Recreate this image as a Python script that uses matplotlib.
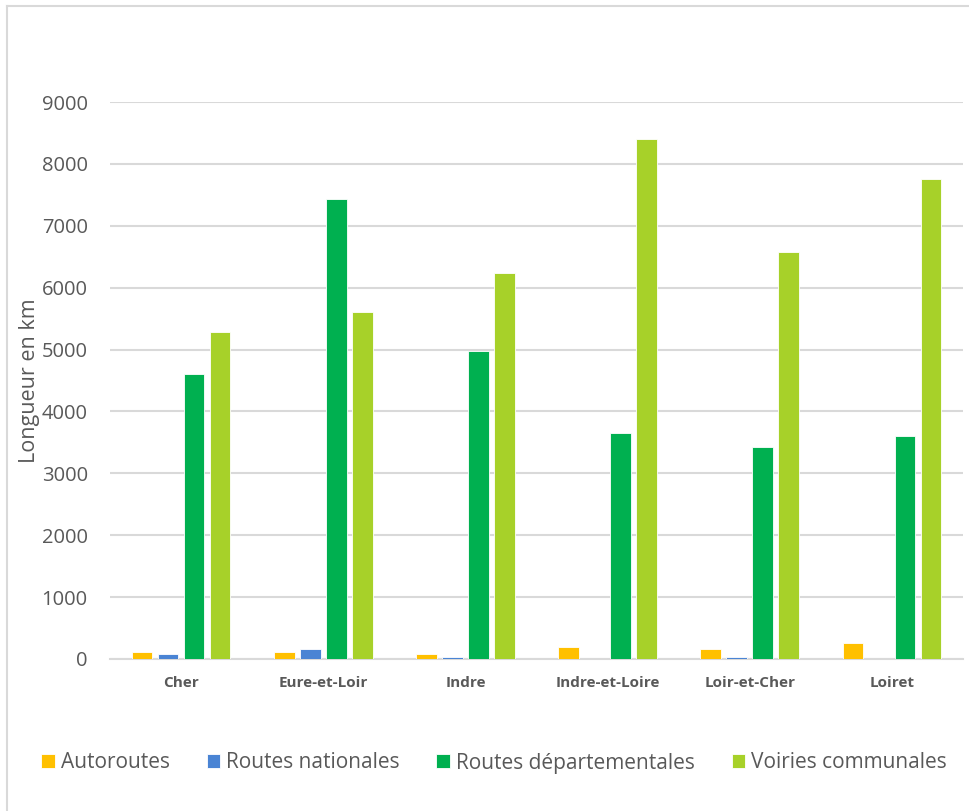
import numpy as np
import matplotlib.pyplot as plt
from matplotlib.lines import Line2D

# longueur du réseau routier par département (km)
departements = ['Cher', 'Eure-et-Loir', 'Indre', 'Indre-et-Loire', 'Loir-et-Cher', 'Loiret']
autoroutes = [118, 118, 85, 194, 156, 258]
routes_nationales = [76, 157, 27, 0, 37, 0]
routes_departementales = [4608, 7430, 4979, 3652, 3426, 3603]
voiries_communales = [5290, 5613, 6237, 8398, 6576, 7758]

series = [
    ('Autoroutes', autoroutes, '#FFC000'),
    ('Routes nationales', routes_nationales, '#4A84D4'),
    ('Routes départementales', routes_departementales, '#00B050'),
    ('Voiries communales', voiries_communales, '#A7D129'),
]

plt.rcParams['font.family'] = ['Open Sans', 'DejaVu Sans']
W, H = 969, 811
fig = plt.figure(figsize=(W/100, H/100), dpi=100)
ax = fig.add_axes([110/W, 1-659/H, (963-110)/W, (659-102)/H])

x = np.arange(len(departements))
larg = 0.145
pas = 0.183
for k, (nom, vals, coul) in enumerate(series):
    ax.bar(x + (k-1.5)*pas, vals, larg, color=coul, label=nom,
           edgecolor='white', linewidth=0.6, zorder=3)

ax.set_xlim(-0.5, 5.5)
ax.set_ylim(0, 9000)
ax.set_yticks(np.arange(0, 9001, 1000))
ax.grid(axis='y', color='#D9D9D9', linewidth=1.5, zorder=0)
for s in ['top', 'right', 'left']:
    ax.spines[s].set_visible(False)
ax.spines['bottom'].set_color('#D9D9D9')
ax.spines['bottom'].set_linewidth(1.5)
ax.tick_params(axis='both', length=0, colors='#595959')
ax.tick_params(axis='y', labelsize=14.5, pad=16)
ax.set_xticks(x)
ax.set_xticklabels(departements, fontsize=11, fontweight='bold', color='#595959')
ax.tick_params(axis='x', pad=12)
ax.set_ylabel('Longueur en km', fontsize=15.5, color='#595959')
ax.yaxis.set_label_coords((40 - 110)/853, 0.5)

fig.legend(loc='center', bbox_to_anchor=(0.51, 1-763/H), ncol=4, frameon=False,
           fontsize=15, labelcolor='#595959', handlelength=0.65, handleheight=0.65,
           handletextpad=0.3, columnspacing=1.75)

# cadre du graphique
fig.add_artist(Line2D([7/W, 7/W], [0, 1-6/H], color='#D9D9D9', linewidth=1.5))
fig.add_artist(Line2D([7/W, 1], [1-6/H, 1-6/H], color='#D9D9D9', linewidth=1.5))

fig.savefig('out.png', dpi=100)
